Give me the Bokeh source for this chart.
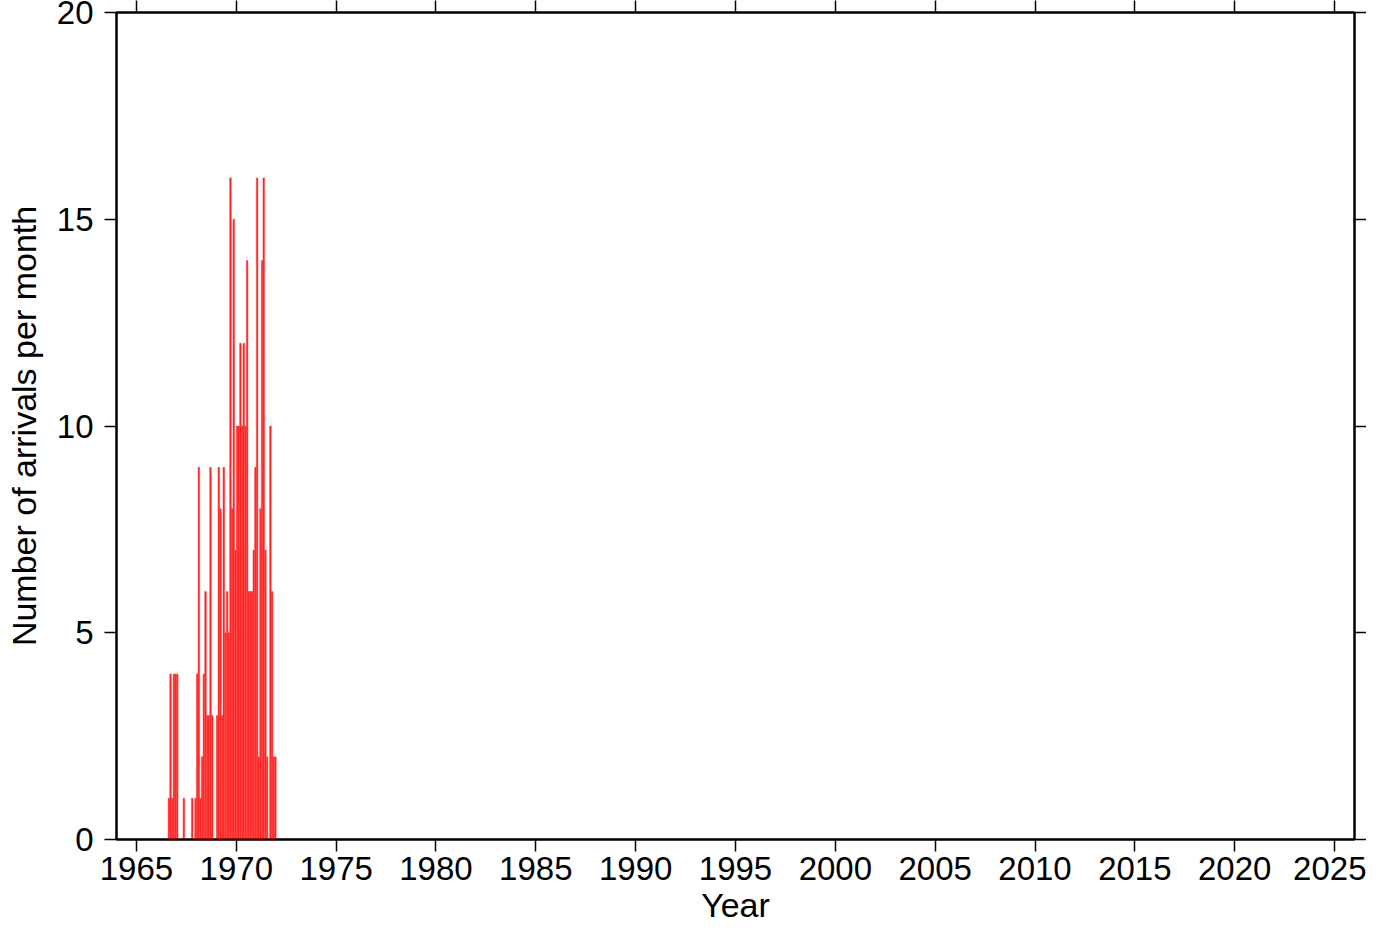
import numpy as np
from bokeh.plotting import figure
from bokeh.models import LinearAxis, FixedTicker, Range1d, ColumnDataSource
from bokeh.embed import file_html
from bokeh.resources import INLINE

# ---- data (monthly arrival counts, first bar = August 1966) ----
first_year = 1966
first_month = 8
counts = [1, 4, 1, 4, 4, 4, 0, 0, 0, 1, 0, 0, 0, 0, 1, 0, 1, 4, 9, 1,
          2, 4, 6, 3, 3, 9, 3, 0, 0, 3, 9, 8, 3, 9, 5, 6, 5, 16, 8, 15,
          7, 10, 10, 12, 10, 12, 10, 14, 6, 6, 6, 7, 9, 16, 2, 8, 14, 16, 7, 2,
          0, 10, 6, 2, 2]
x_ticks = [1965, 1970, 1975, 1980, 1985, 1990, 1995, 2000, 2005, 2010, 2015, 2020, 2025]
y_ticks = [0, 5, 10, 15, 20]
x_label = "Year"
y_label = "Number of arrivals per month"

FONT = "Liberation Sans"

n = len(counts)
left = first_year + (first_month - 1) / 12 + np.arange(n) / 12
right = left + 1 / 12
src = ColumnDataSource(dict(left=left, right=right, top=counts, bottom=np.zeros(n)))

p = figure(width=1366, height=926,
           x_range=Range1d(1964, 2026), y_range=Range1d(0, 20),
           output_backend="svg", toolbar_location=None,
           min_border_left=116, min_border_right=12,
           min_border_top=0, min_border_bottom=0)

p.quad(left="left", right="right", top="top", bottom="bottom", source=src,
       fill_color="#ff1e1e", line_color="#ff4a4a", line_width=0.5)

p.xgrid.visible = False
p.ygrid.visible = False
p.outline_line_color = "black"
p.outline_line_width = 2
p.background_fill_color = "white"
p.border_fill_color = "white"


def style(ax, ticks, labels=True):
    ax.ticker = FixedTicker(ticks=ticks)
    ax.major_tick_out = 12
    ax.major_tick_in = 0
    ax.minor_tick_out = 0
    ax.minor_tick_in = 0
    ax.major_tick_line_width = 1.5
    ax.major_tick_line_color = "black"
    ax.axis_line_color = "black"
    ax.axis_line_width = 2
    ax.major_label_text_font = FONT
    ax.major_label_text_color = "black"
    ax.axis_label_text_font = FONT
    ax.axis_label_text_font_style = "normal"
    ax.axis_label_text_color = "black"
    if labels:
        ax.major_label_text_font_size = "33px"
        ax.axis_label_text_font_size = "34px"
    else:
        ax.major_label_text_font_size = "0px"
        ax.major_label_text_color = None
        ax.major_label_standoff = 0


bx = p.xaxis[0]
style(bx, x_ticks)
bx.axis_label = x_label
bx.major_label_standoff = 5
bx.axis_label_standoff = 3

ly = p.yaxis[0]
style(ly, y_ticks)
ly.axis_label = y_label
ly.major_label_standoff = 11
ly.axis_label_standoff = 11

top_ax = LinearAxis()
style(top_ax, x_ticks, labels=False)
p.add_layout(top_ax, "above")

right_ax = LinearAxis()
style(right_ax, y_ticks, labels=False)
p.add_layout(right_ax, "right")

open("out.html", "w").write(file_html(p, INLINE))
